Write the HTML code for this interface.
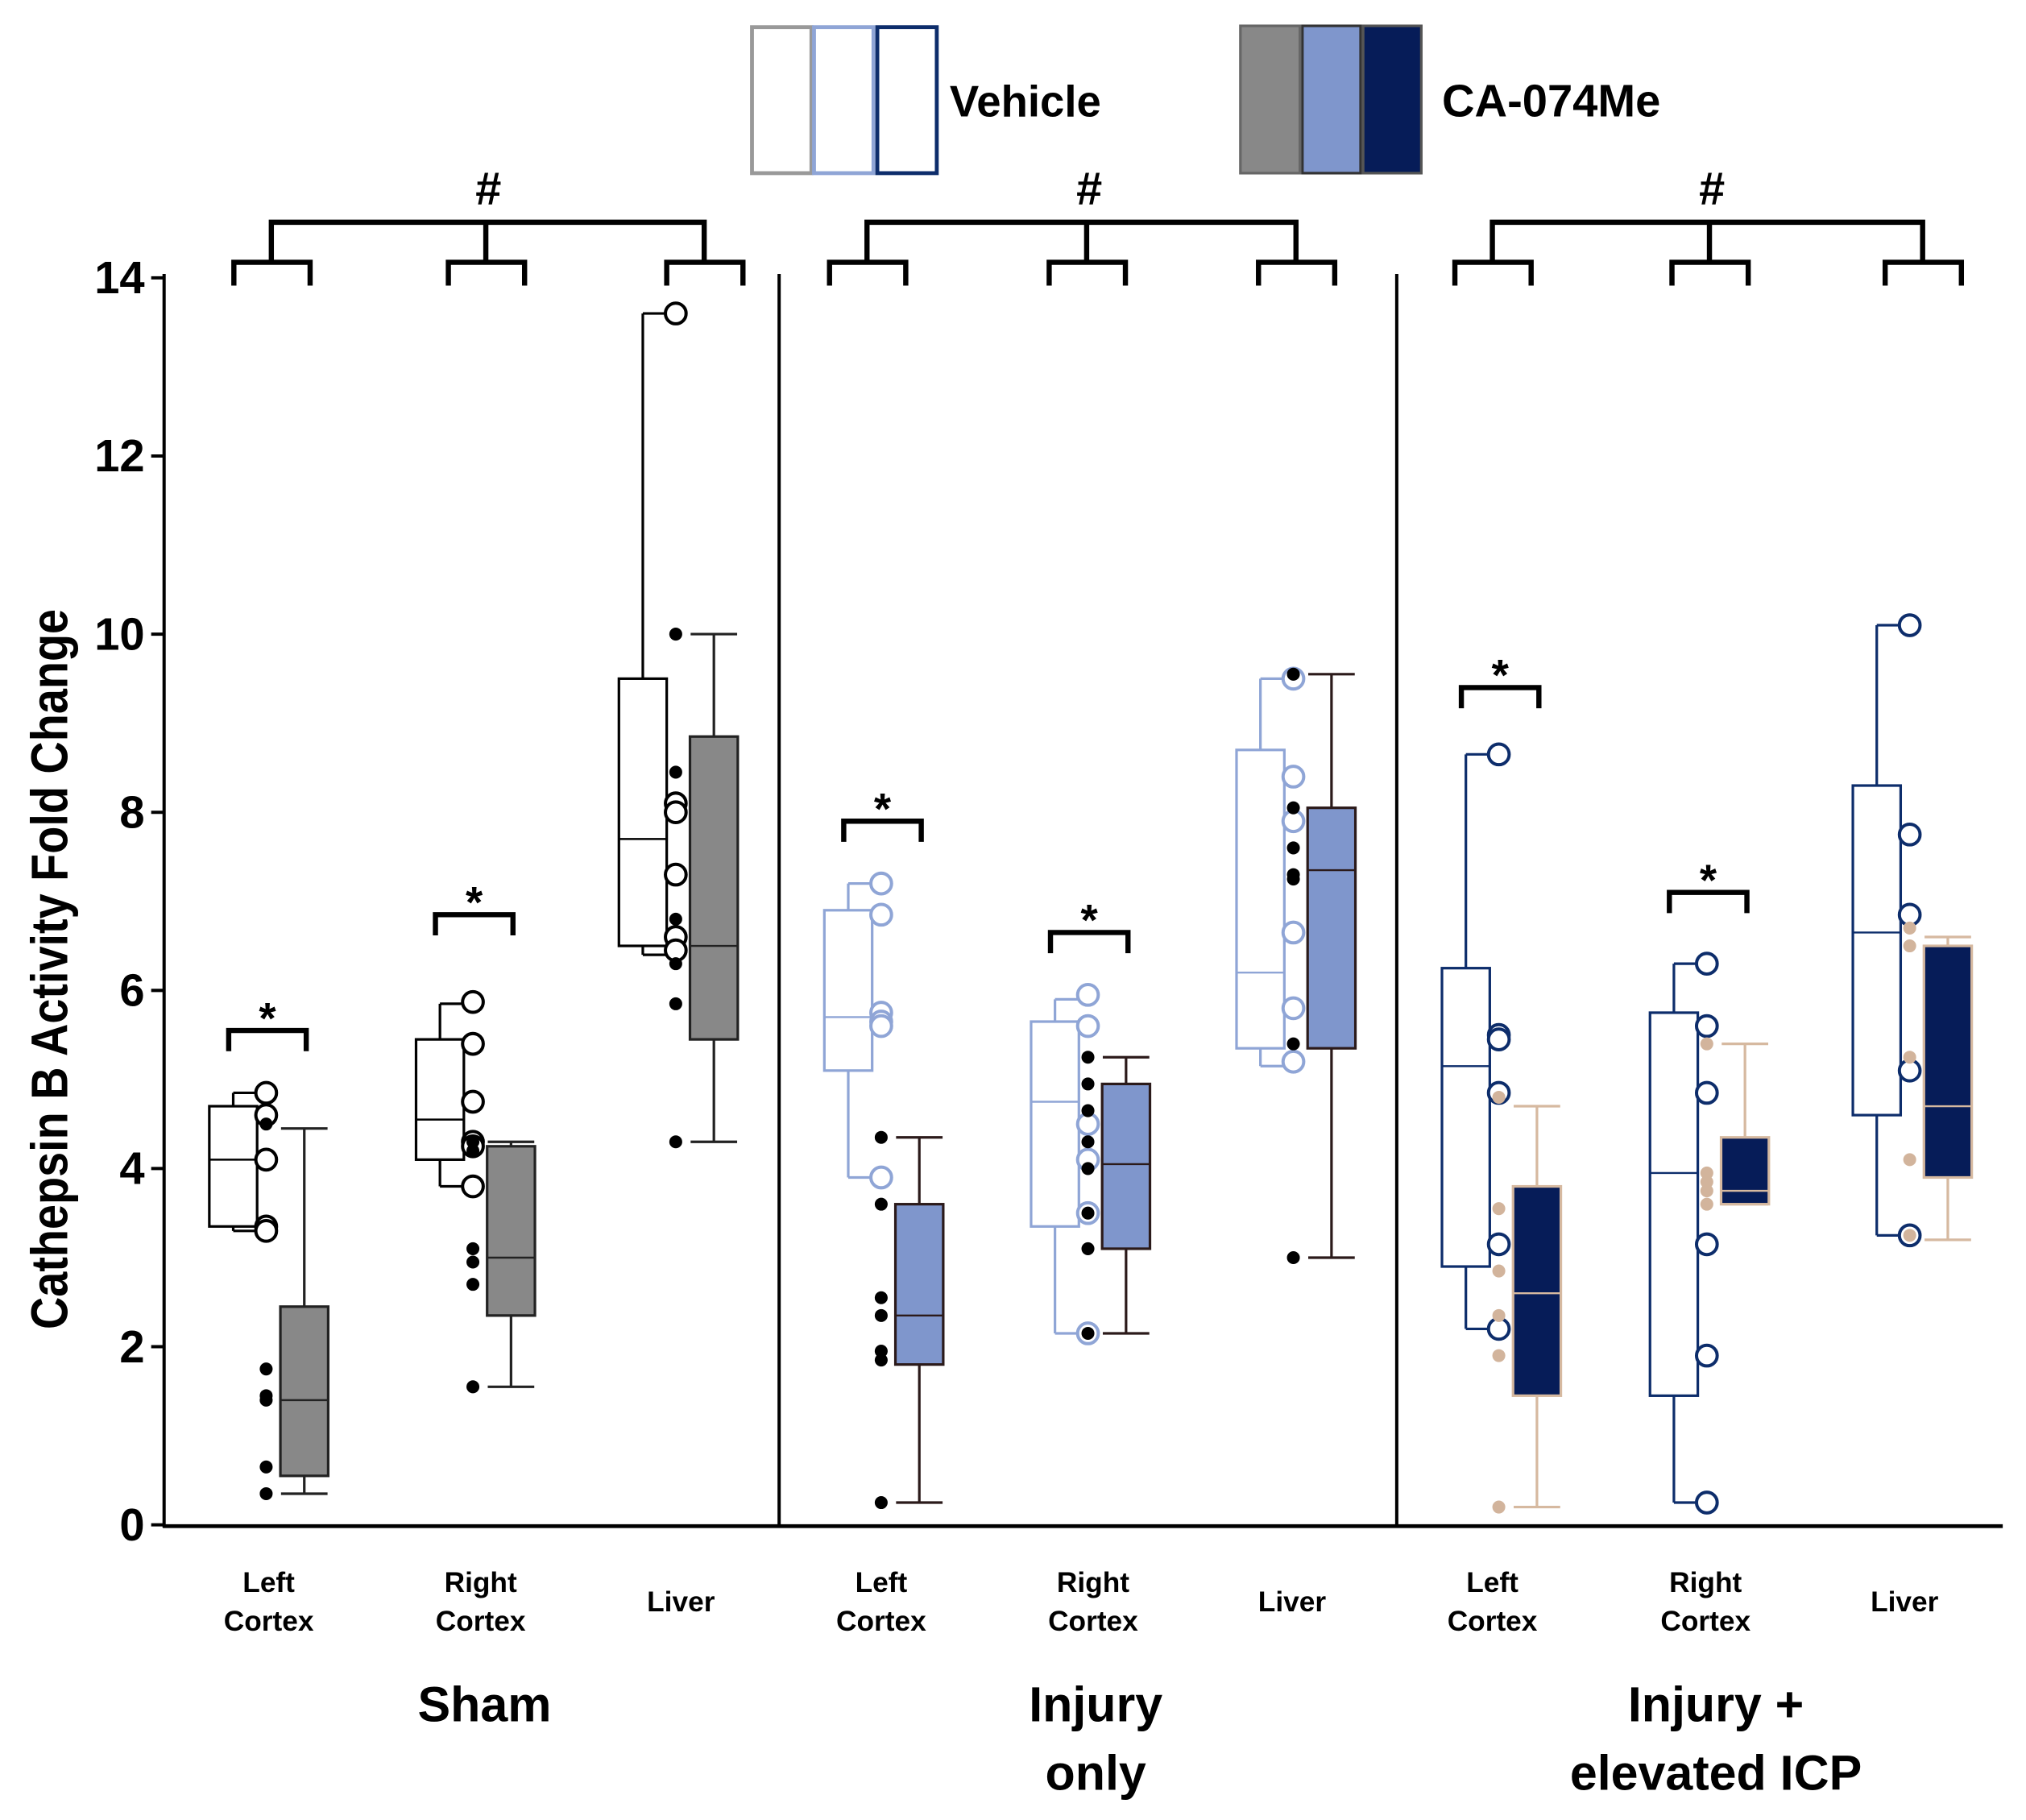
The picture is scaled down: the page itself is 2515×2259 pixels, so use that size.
<!DOCTYPE html>
<html><head><meta charset="utf-8"><style>
html,body{margin:0;padding:0;background:#fff}
svg{display:block}
text{font-family:"Liberation Sans",sans-serif;font-weight:bold}
</style></head><body>
<svg id="chart" width="2515" height="2259" viewBox="0 0 1568 1408.4" preserveAspectRatio="none" xmlns="http://www.w3.org/2000/svg">
<g id="legend">
<rect x="582" y="21" width="46" height="113" fill="#fff" stroke="#999" stroke-width="3"/>
<rect x="630" y="21" width="46" height="113" fill="#fff" stroke="#8fa5d6" stroke-width="3"/>
<rect x="679" y="21" width="46" height="113" fill="#fff" stroke="#0d2d6b" stroke-width="3"/>
<text x="735" y="90" font-size="34">Vehicle</text>
<rect x="960" y="20" width="46" height="114" fill="#888" stroke="#666" stroke-width="2"/>
<rect x="1008" y="20" width="45" height="114" fill="#7f96cc" stroke="#333" stroke-width="2"/>
<rect x="1055" y="20" width="45" height="114" fill="#061c58" stroke="#555" stroke-width="2"/>
<text x="1116" y="90" font-size="35">CA-074Me</text>
</g>
</svg>
<script>
const categories=["Left Cortex","Right Cortex","Liver"];
const panels=["Sham","Injury only","Injury + elevated ICP"];
const yTicks=[0,2,4,6,8,10,12,14];
// [whiskerLow, q1, median, q3, whiskerHigh] per panel x category
const vehBox=[[3.3,3.35,4.1,4.7,4.85],[3.8,4.1,4.55,5.45,5.85],[6.4,6.5,7.7,9.5,13.6],
[3.9,5.1,5.7,6.9,7.2],[2.15,3.35,4.75,5.65,5.9],[5.15,5.35,6.2,8.7,9.5],
[2.2,2.9,5.15,6.25,8.65],[0.25,1.45,3.95,5.75,6.3],[3.25,4.6,6.65,8.3,10.1]];
const drugBox=[[0.35,0.55,1.4,2.45,4.45],[1.55,2.35,3.0,4.25,4.3],[4.3,5.45,6.5,8.85,10.0],
[0.25,1.8,2.35,3.6,4.35],[2.15,3.1,4.05,4.95,5.25],[3.0,5.35,7.35,8.05,9.55],
[0.2,1.45,2.6,3.8,4.7],[3.6,3.6,3.75,4.35,5.4],[3.2,3.9,4.7,6.5,6.6]];
const vehPts=[[4.85,4.6,4.1,3.35,3.3],[5.87,5.4,4.75,4.3,4.25,3.8],[13.6,8.1,8.0,7.3,6.6,6.45],
[7.2,6.85,5.75,5.65,5.6,3.9],[5.95,5.6,4.5,4.1,3.5,2.15],[9.5,8.4,7.9,6.65,5.8,5.2],
[8.65,5.5,5.45,4.85,3.15,2.2],[6.3,5.6,4.85,3.15,1.9,0.25],[10.1,7.75,6.85,5.1,3.25]];
const drugPts=[[4.5,1.75,1.45,1.4,0.65,0.35],[4.3,4.2,3.1,2.95,2.7,1.55],[10.0,8.45,6.8,6.3,5.85,4.3],
[4.35,3.6,2.55,2.35,1.95,1.85,0.25],[5.25,4.95,4.65,4.3,4.0,3.5,3.1,2.15],[9.55,8.05,7.6,7.3,7.25,5.4,3.0],
[4.8,3.55,2.85,2.35,1.9,0.2],[5.4,3.95,3.85,3.75,3.6],[6.7,6.5,5.25,4.1,3.25]];
const sigLevels=[5.55,6.85,null,7.9,6.65,null,9.4,7.1,null];

const NS="http://www.w3.org/2000/svg";
const svg=document.getElementById("chart");
const y=v=>1180-v*(965/14);
const bases=[162,322,479,638,798,957,1116,1277,1434];
const bracketC=[210,376,545,671,841,1003,1155,1323,1488];
const labelC=[208,372,527,682,846,1000,1155,1320,1474];
const styles=[
 {vs:"#000",df:"#888",ds:"#222",dw:"#222",dp:"#000",md:"#222"},
 {vs:"#8fa5d6",df:"#7f96cc",ds:"#2b1a1a",dw:"#2b1a1a",dp:"#000",md:"#2b1a1a"},
 {vs:"#0d2d6b",df:"#061c58",ds:"#d6b9a0",dw:"#d6b9a0",dp:"#d2b49c",md:"#d6b9a0"}];
function el(tag,attrs,parent){const e=document.createElementNS(NS,tag);for(const k in attrs)e.setAttribute(k,attrs[k]);(parent||svg).appendChild(e);return e;}
function line(x1,y1,x2,y2,c,w,p){return el("line",{x1,y1,x2,y2,stroke:c,"stroke-width":w},p);}
function txt(x,yy,s,size,anchor,p){const t=el("text",{x,y:yy,"font-size":size,"text-anchor":anchor||"middle"},p);t.textContent=s;return t;}

const ax=el("g",{});


line(127,212,127,1182,"#000",2.5,ax);
line(126,1181,1550,1181,"#000",3,ax);
line(603,212,603,1181,"#000",2.5,ax);
line(1081,212,1081,1181,"#000",2.5,ax);
yTicks.forEach(v=>{
 line(117,y(v),127,y(v),"#000",2.5,ax);
 const t=txt(112,y(v)+12,String(v),35,"end",ax);
 
 
});
const yt=txt(0,0,"Cathepsin B Activity Fold Change",40,"middle",ax);
yt.setAttribute("transform","translate(52,750) rotate(-90) scale(0.87,1)");



for(let i=0;i<9;i++){
 const p=Math.floor(i/3),st=styles[p],b=bases[i];
 const g=el("g",{});
 
 
 const vb=vehBox[i],vx=b,vw=37,vc=vx+vw/2;
 line(vc,y(vb[0]),vc,y(vb[4]),st.vs,2,g);
 line(vc,y(vb[0]),vx+44,y(vb[0]),st.vs,2,g);
 line(vc,y(vb[4]),vx+44,y(vb[4]),st.vs,2,g);
 const r=el("rect",{x:vx,y:y(vb[3]),width:vw,height:y(vb[1])-y(vb[3]),fill:"#fff",stroke:st.vs,"stroke-width":2},g);
 
 
 line(vx,y(vb[2]),vx+vw,y(vb[2]),st.vs,1.5,g);
 const db=drugBox[i],dx=b+55,dc=dx+18.5;
 line(dc,y(db[0]),dc,y(db[4]),st.dw,2,g);
 line(dc-18,y(db[0]),dc+18,y(db[0]),st.dw,2,g);
 line(dc-18,y(db[4]),dc+18,y(db[4]),st.dw,2,g);
 const r2=el("rect",{x:dx,y:y(db[3]),width:37,height:Math.max(1,y(db[1])-y(db[3])),fill:st.df,stroke:st.ds,"stroke-width":2},g);
 
 
 line(dx,y(db[2]),dx+37,y(db[2]),st.md,1.5,g);
 const px=b+44;
 vehPts[i].forEach(v=>{
  const c=el("circle",{cx:px,cy:y(v),r:8,fill:"#fff",stroke:st.vs,"stroke-width":2.5},g);
  
  
 });
 drugPts[i].forEach(v=>{
  const c=el("circle",{cx:px,cy:y(v),r:5,fill:st.dp},g);
  
  
 });
 const bc=bracketC[i];
 el("path",{d:`M${bc-29} 221 V203 H${bc+30} V221`,fill:"none",stroke:"#000","stroke-width":4},g);
 if(sigLevels[i]!==null){
  const sy=y(sigLevels[i]);
  el("path",{d:`M${b+15} ${sy+16} V${sy} H${b+75} V${sy+16}`,fill:"none",stroke:"#000","stroke-width":4},g);
  const s=txt(b+45,sy+2,"*",34,"middle",g);
  
  
 }
 const lx=labelC[i];
 const words=categories[i%3].split(" ");
 if(words.length===2){
  const a=txt(lx,1232,words[0],22,"middle");
  const c=txt(lx,1262,words[1],22,"middle");
 } else {
  const a=txt(lx,1247,words[0],22,"middle");
 }
}
for(let p=0;p<3;p++){
 const c1=bracketC[p*3],c2=bracketC[p*3+1],c3=bracketC[p*3+2];
 const g=el("g",{});
 
 
 el("path",{d:`M${c1} 204 V172 H${c3} V204 M${c2} 172 V204`,fill:"none",stroke:"#000","stroke-width":4},g);
 txt(c2+2,158,"#",36,"middle",g);
}
const pl=[[375,[1332]],[848,[1332,1385]],[1328,[1332,1385]]];
const plText=[["Sham"],["Injury","only"],["Injury +","elevated ICP"]];
pl.forEach((q,i)=>{
 plText[i].forEach((s,j)=>{
  const t=txt(q[0],q[1][j],s,38,"middle");
  
  
 });
});
</script>
</body></html>
